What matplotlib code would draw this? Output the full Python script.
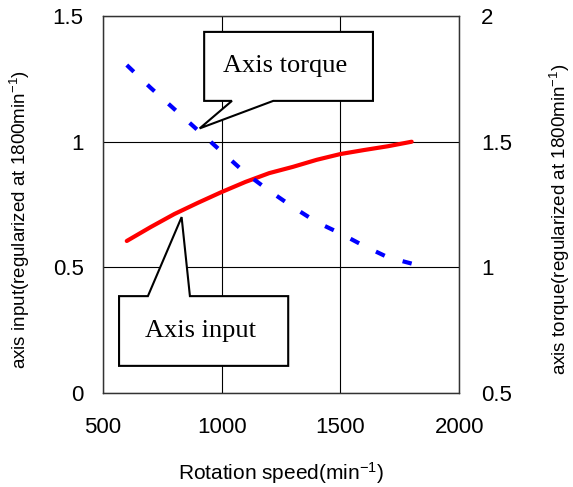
"""
Axis input / axis torque vs rotation speed (normalised at 1800 min^-1).
Saves out.png
"""
import numpy as np
import matplotlib
matplotlib.use("Agg")
import matplotlib.pyplot as plt
from matplotlib.patches import Polygon

plt.rcParams["font.family"] = ["Liberation Sans", "DejaVu Sans"]
plt.rcParams["mathtext.fontset"] = "custom"
plt.rcParams["mathtext.rm"] = "Liberation Sans"
plt.rcParams["mathtext.it"] = "Liberation Sans:italic"
plt.rcParams["lines.scale_dashes"] = False

# ── Data ──────────────────────────────────────────────────────────────────────
speed = [600, 700, 800, 900, 1000, 1100, 1200, 1300, 1400, 1500, 1600, 1700, 1800]
axis_input = [0.605, 0.66, 0.712, 0.757, 0.80, 0.84, 0.875, 0.90, 0.928, 0.951,
              0.967, 0.982, 1.0]
axis_torque = [1.805, 1.715, 1.63, 1.545, 1.46, 1.375, 1.305, 1.24, 1.18, 1.135,
               1.085, 1.04, 1.015]

x_ticks = [500, 1000, 1500, 2000]
left_ticks = [0, 0.5, 1, 1.5]
left_ticklabels = ["0", "0.5", "1", "1.5"]
right_ticks = [0.5, 1, 1.5, 2]
right_ticklabels = ["0.5", "1", "1.5", "2"]

# ── Figure ────────────────────────────────────────────────────────────────────
fig = plt.figure(figsize=(5.73, 4.87), dpi=100)
ax = fig.add_axes([0.1798, 0.193, 0.6215, 0.774])
ax2 = ax.twinx()

ax.set_xlim(500, 2000)
ax.set_ylim(0, 1.5)
ax2.set_ylim(0.5, 2)

ax.set_xticks(x_ticks)
ax.set_xticklabels([str(v) for v in x_ticks])
ax.set_yticks(left_ticks)
ax.set_yticklabels(left_ticklabels)
ax2.set_yticks(right_ticks)
ax2.set_yticklabels(right_ticklabels)

ax.grid(True, color="black", linewidth=0.8)
ax.set_axisbelow(True)
ax.tick_params(axis="x", length=0, pad=17, labelsize=16)
ax.tick_params(axis="y", length=0, pad=14, labelsize=16)
ax2.tick_params(axis="y", length=0, pad=16, labelsize=16)
for a in (ax, ax2):
    for sp in a.spines.values():
        sp.set_color("#333333")
        sp.set_linewidth(0.9)

# Series
ax.plot(speed, axis_input, color="red", linewidth=3.0, solid_capstyle="round",
        zorder=3)
ax2.plot(speed, axis_torque, color="blue", linewidth=3.0, dashes=(7, 13.5),
         dash_capstyle="butt", zorder=3)

# Labels
ax.set_xlabel(r"Rotation speed(min$^{-1}$)", fontsize=15, va="top")
ax.xaxis.set_label_coords(0.5, -0.178)
ax.set_ylabel(r"axis input(regularized at 1800min$^{-1}$)", fontsize=13.5)
ax.yaxis.set_label_coords(-0.2, 0.46)
ax2.set_ylabel(r"axis torque(regularized at 1800min$^{-1}$)", fontsize=13.5,
               rotation=90)
ax2.yaxis.set_label_coords(1.248, 0.46)

# ── Callouts ──────────────────────────────────────────────────────────────────
def callout(axis, box, base, tip, text, pointer_down):
    """box = (x0, x1, y0, y1) in axes fraction, base = (bx0, bx1), tip in data."""
    x0, x1, y0, y1 = box
    tx, ty = ax.transAxes.inverted().transform(axis.transData.transform(tip))
    if pointer_down:
        pts = [(x0, y1), (x1, y1), (x1, y0), (base[1], y0), (tx, ty),
               (base[0], y0), (x0, y0)]
    else:
        pts = [(x0, y1), (base[0], y1), (tx, ty), (base[1], y1), (x1, y1),
               (x1, y0), (x0, y0)]
    poly = Polygon(pts, closed=True, transform=ax.transAxes, facecolor="white",
                   edgecolor="black", linewidth=1.5, zorder=6, clip_on=False)
    ax.add_patch(poly)
    ax.text((x0 + x1) / 2 - 0.01, (y0 + y1) / 2, text, transform=ax.transAxes,
            ha="center", va="center", fontsize=19, family="Liberation Serif",
            zorder=7)

callout(ax2, (0.284, 0.758, 0.775, 0.958), (0.362, 0.478), (907, 1.553),
        "Axis torque", pointer_down=True)
callout(ax, (0.045, 0.520, 0.072, 0.257), (0.126, 0.244), (831, 0.70),
        "Axis input", pointer_down=False)

fig.savefig("out.png", dpi=100, facecolor="white")
